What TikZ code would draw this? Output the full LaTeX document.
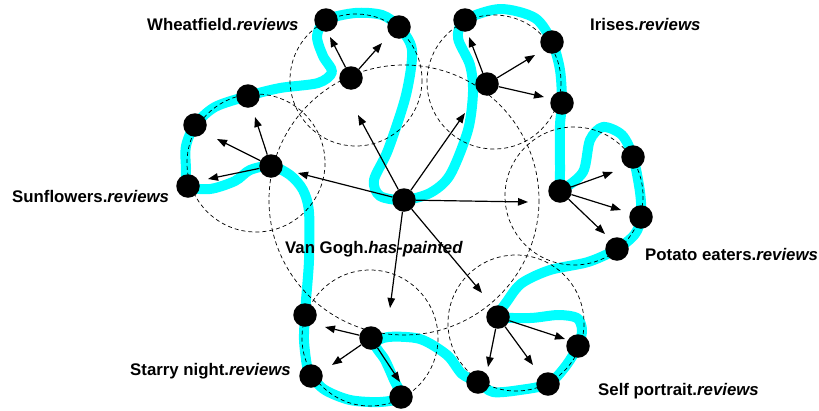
\documentclass[tikz,border=0pt]{standalone}
\usepackage{fontspec}
\setmainfont{Liberation Sans}
\usetikzlibrary{arrows.meta}
\definecolor{trail}{RGB}{0,255,255}
\tikzset{
  dot/.style={circle, fill=black, minimum size=23.5pt, inner sep=0pt},
  ring/.style={draw=black, dashed, dash pattern=on 4pt off 3pt, line width=0.7pt},
  arr/.style={draw=black, line width=1.2pt, -{Triangle[length=10pt,width=7.5pt]}},
  lbl/.style={anchor=base west, inner sep=0pt, font=\fontsize{16.8}{19}\selectfont\bfseries},
}
\begin{document}
\begin{tikzpicture}[x=1pt,y=-1pt]
\useasboundingbox (0,0) rectangle (819,410);

% the cyan tour through the review graph
\draw[trail, line width=10pt, line join=round] plot[smooth cycle, tension=0.5] coordinates {
  (404,200) (380,196) (374,180) (388,150) (406,95) (412,50) (399,27)
  (382,15) (355,13) (326,20)
  (317,36) (323,56) (332,72) (318,83) (280,88) (248,96)
  (215,107) (195,125) (186,146) (186,168) (188,186)
  (210,189) (235,181) (250,170) (271,166)
  (290,175) (303,190) (309,212) (309,260) (306,300) (305,315)
  (304,340) (307,366) (311,376)
  (325,390) (350,400) (380,402) (401,397)
  (394,380) (385,360) (375,344) (388,337) (420,339) (447,355) (462,374) (478,382)
  (493,392) (520,390) (548,384)
  (565,367) (578,346)
  (582,330) (577,318) (558,315) (530,318) (500,316)
  (508,300) (522,283) (550,270) (588,262) (617,249)
  (635,234) (641,217) (640,192) (633,157)
  (622,135) (603,127) (590,140) (583,172) (562,188)
  (560,165) (560,125) (562,103)
  (560,70) (552,42) (535,18) (500,9) (465,20)
  (458,38) (470,65) (473,92) (468,130) (450,175) (430,193)
};

% neighbourhood circles
\draw[ring] (404,200) circle[radius=135];
\draw[ring] (356,80) circle[radius=66];
\draw[ring] (256,163) circle[radius=69];
\draw[ring] (494,82) circle[radius=67];
\draw[ring] (574,196) circle[radius=69];
\draw[ring] (516,323) circle[radius=68];
\draw[ring] (370,338) circle[radius=68];

% nodes
\node[dot] (vg) at (404,200) {};
\node[dot] (w)  at (351,78) {};
\node[dot] (w1) at (326,20) {};
\node[dot] (w2) at (399,27) {};
\node[dot] (s)  at (271,166) {};
\node[dot] (s1) at (248,96) {};
\node[dot] (s2) at (195,125) {};
\node[dot] (s3) at (188,186) {};
\node[dot] (i)  at (487,84) {};
\node[dot] (i1) at (465,20) {};
\node[dot] (i2) at (552,42) {};
\node[dot] (i3) at (562,103) {};
\node[dot] (e)  at (560,191) {};
\node[dot] (e1) at (633,157) {};
\node[dot] (e2) at (641,217) {};
\node[dot] (e3) at (617,249) {};
\node[dot] (p)  at (498,317) {};
\node[dot] (p1) at (478,382) {};
\node[dot] (p2) at (548,384) {};
\node[dot] (p3) at (578,346) {};
\node[dot] (n)  at (371,338) {};
\node[dot] (n1) at (305,315) {};
\node[dot] (n2) at (311,376) {};
\node[dot] (n3) at (401,397) {};

% arrow tips
\coordinate (vga) at (358,115);
\coordinate (vgb) at (465,113);
\coordinate (vgc) at (528,202);
\coordinate (vgd) at (298,173);
\coordinate (vge) at (390,308);
\coordinate (vgf) at (482,293);
\coordinate (wa) at (330,37);
\coordinate (wb) at (382,43);
\coordinate (sa) at (255,117);
\coordinate (sb) at (217,139);
\coordinate (sc) at (208,179);
\coordinate (ia) at (469,37);
\coordinate (ib) at (535,55);
\coordinate (ic) at (544,97);
\coordinate (ea) at (613,172);
\coordinate (eb) at (621,210);
\coordinate (ec) at (605,234);
\coordinate (pa) at (565,339);
\coordinate (pb) at (533,365);
\coordinate (pc) at (488,367);
\coordinate (na) at (325,327);
\coordinate (nb) at (332,365);
\coordinate (nc) at (400,382);

\foreach \t in {vga,vgb,vgc,vgd,vge,vgf} \draw[arr] (vg) -- (\t);
\foreach \t in {wa,wb} \draw[arr] (w) -- (\t);
\foreach \t in {sa,sb,sc} \draw[arr] (s) -- (\t);
\foreach \t in {ia,ib,ic} \draw[arr] (i) -- (\t);
\foreach \t in {ea,eb,ec} \draw[arr] (e) -- (\t);
\foreach \t in {pa,pb,pc} \draw[arr] (p) -- (\t);
\foreach \t in {na,nb,nc} \draw[arr] (n) -- (\t);

% labels
\node[lbl] (lw) at (147,30)  {Wheatfield.\textit{reviews}};
\node[lbl] (li) at (590,30)  {Irises.\textit{reviews}};
\node[lbl] (ls) at (12,202)  {Sunflowers.\textit{reviews}};
\node[lbl] (lv) at (285,253) {Van Gogh.\textit{has-painted}};
\node[lbl] (le) at (645,260) {Potato eaters.\textit{reviews}};
\node[lbl] (ln) at (130,375) {Starry night.\textit{reviews}};
\node[lbl] (lp) at (598,395) {Self portrait.\textit{reviews}};
\end{tikzpicture}
\end{document}
